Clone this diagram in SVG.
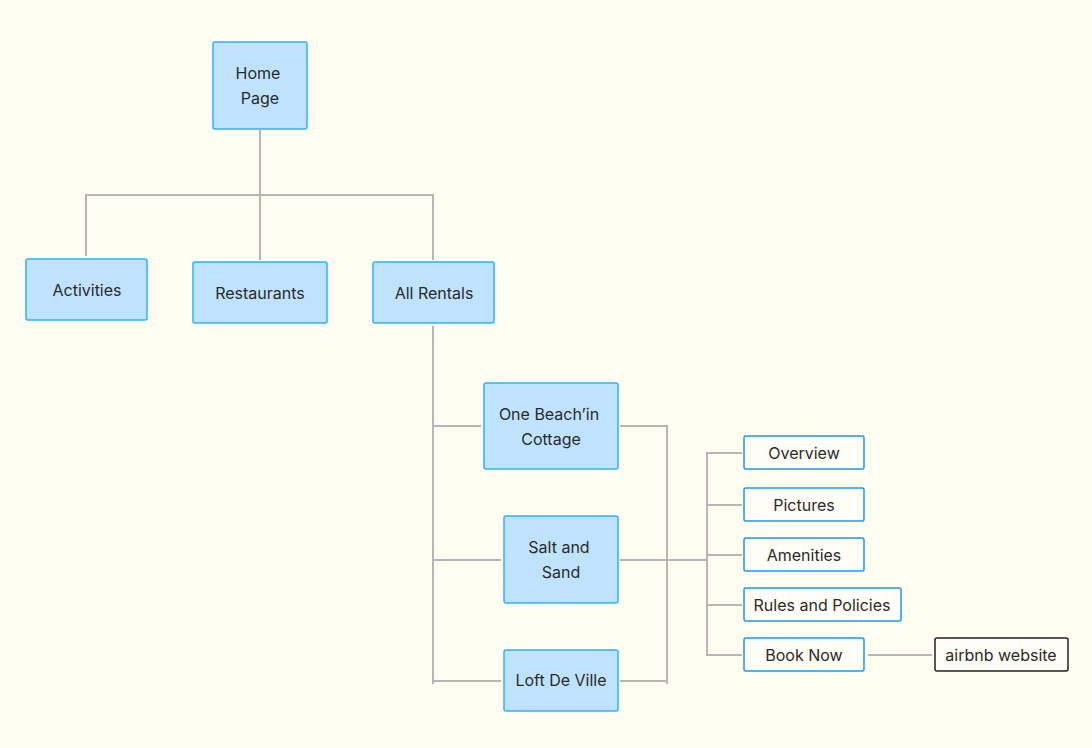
<svg xmlns="http://www.w3.org/2000/svg" width="1092" height="748" viewBox="0 0 1092 748">
<style>
.n{fill:#bfe3fd;stroke:#2db3f6;stroke-width:1.5}
.w{fill:#fffef6;stroke:#1a99f0;stroke-width:1.5}
.k{fill:#fffef6;stroke:#222;stroke-width:1.5}
text{font-family:Inter,"Liberation Sans",sans-serif;font-size:16px;fill:#2a2a2a;text-anchor:middle}
.c line{stroke:#b5b5b5;stroke-width:2}
</style>
<rect width="1092" height="748" fill="#fffdf2"/>
<g class="c" id="connectors">
<line x1="260" y1="130" x2="260" y2="196"/>
<line x1="86" y1="195" x2="433" y2="195"/>
<line x1="86" y1="194" x2="86" y2="256"/>
<line x1="260" y1="195" x2="260" y2="260"/>
<line x1="433" y1="194" x2="433" y2="260"/>
<line x1="433" y1="326" x2="433" y2="684"/>
<line x1="433" y1="426" x2="481" y2="426"/>
<line x1="433" y1="560" x2="501" y2="560"/>
<line x1="433" y1="681" x2="501" y2="681"/>
<line x1="620" y1="426" x2="668" y2="426"/>
<line x1="667" y1="425" x2="667" y2="684"/>
<line x1="620" y1="681" x2="667" y2="681"/>
<line x1="620" y1="560" x2="707" y2="560"/>
<line x1="707" y1="452" x2="707" y2="656"/>
<line x1="706" y1="453" x2="742" y2="453"/>
<line x1="707" y1="505" x2="742" y2="505"/>
<line x1="707" y1="555" x2="742" y2="555"/>
<line x1="707" y1="605" x2="742" y2="605"/>
<line x1="706" y1="655" x2="742" y2="655"/>
<line x1="868" y1="655" x2="932" y2="655"/>
</g>
<g id="home"><rect class="n" x="213" y="42" width="94" height="87" rx="2"/><text x="258" y="79">Home</text><text x="260" y="104">Page</text></g>
<g id="activities"><rect class="n" x="26" y="259" width="121" height="61" rx="2"/><text x="87" y="296">Activities</text></g>
<g id="restaurants"><rect class="n" x="193" y="262" width="134" height="61" rx="2"/><text x="260" y="299">Restaurants</text></g>
<g id="allrentals"><rect class="n" x="373" y="262" width="121" height="61" rx="2"/><text x="434" y="299">All Rentals</text></g>
<g id="onebeach"><rect class="n" x="484" y="383" width="134" height="86" rx="2"/><text x="549" y="420">One Beach’in</text><text x="551" y="445">Cottage</text></g>
<g id="saltsand"><rect class="n" x="504" y="516" width="114" height="87" rx="2"/><text x="559" y="553">Salt and</text><text x="561" y="578">Sand</text></g>
<g id="loft"><rect class="n" x="504" y="650" width="114" height="61" rx="2"/><text x="561" y="686">Loft De Ville</text></g>
<g id="overview"><rect class="w" x="744" y="436" width="120" height="33" rx="2"/><text x="804" y="459">Overview</text></g>
<g id="pictures"><rect class="w" x="744" y="488" width="120" height="33" rx="2"/><text x="804" y="511">Pictures</text></g>
<g id="amenities"><rect class="w" x="744" y="538" width="120" height="33" rx="2"/><text x="804" y="561">Amenities</text></g>
<g id="rules"><rect class="w" x="744" y="588" width="157" height="33" rx="2"/><text x="822" y="611">Rules and Policies</text></g>
<g id="booknow"><rect class="w" x="744" y="638" width="120" height="33" rx="2"/><text x="804" y="661">Book Now</text></g>
<g id="airbnb"><rect class="k" x="935" y="638" width="133" height="33" rx="2"/><text x="1001" y="661">airbnb website</text></g>
</svg>
